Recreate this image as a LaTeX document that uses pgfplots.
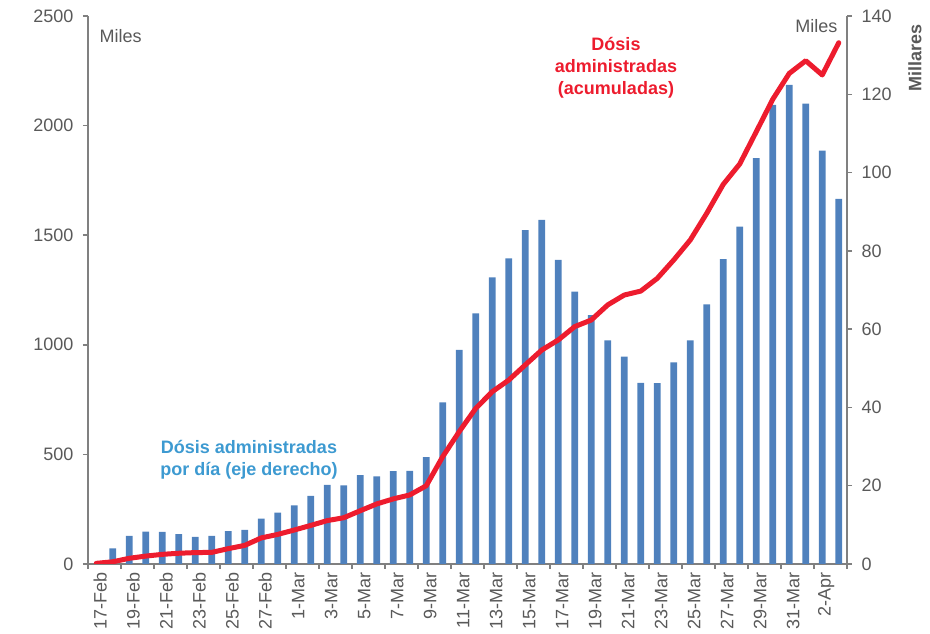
\documentclass[border=0pt]{standalone}
\usepackage{fontspec}
\setmainfont{Liberation Sans}
\usepackage{pgfplots}
\pgfplotsset{compat=1.18}
\definecolor{barblue}{HTML}{4F81BD}
\definecolor{linered}{HTML}{ED1C2E}
\definecolor{txtblue}{HTML}{3D9AD1}
\definecolor{txtgray}{HTML}{595959}
\definecolor{axgray}{HTML}{808080}
\pgfplotsset{
  myaxis/.style={
    at={(88pt,70pt)}, anchor=south west,
    scale only axis, width=759pt, height=548pt,
    xmin=-0.5, xmax=45.5,
    axis line style={-, axgray, line width=1.5pt},
    tick style={axgray, line width=1.5pt},
    major tick length=5pt, minor tick length=5pt,
    tick align=outside,
    tick label style={font=\fontsize{18}{21}\selectfont, text=txtgray},
    /pgf/number format/assume math mode=true,
    /pgf/number format/1000 sep={},
  }
}
\begin{document}
\begin{tikzpicture}
\useasboundingbox (0,0) rectangle (930pt,634pt);
% bars: right axis
\begin{axis}[myaxis,
  ymin=0, ymax=140, ytick={0,20,...,140},
  axis y line*=right, axis x line*=bottom,
  xtick={0,2,...,44},
  xticklabels={17-Feb,19-Feb,21-Feb,23-Feb,25-Feb,27-Feb,1-Mar,3-Mar,5-Mar,7-Mar,9-Mar,11-Mar,13-Mar,15-Mar,17-Mar,19-Mar,21-Mar,23-Mar,25-Mar,27-Mar,29-Mar,31-Mar,2-Apr},
  minor xtick={-0.5,1.5,...,45.5},
  major x tick style={draw=none},
  xticklabel style={rotate=90, anchor=east, xshift=0pt, yshift=-4pt},
  yticklabel style={anchor=west, xshift=6pt},
]
\addplot[ybar, bar width=0.4, fill=barblue, draw=none] coordinates {
(0,0) (1,4.0) (2,7.2) (3,8.3) (4,8.2) (5,7.6) (6,6.9) (7,7.2) (8,8.4) (9,8.7)
(10,11.6) (11,13.1) (12,15.0) (13,17.4) (14,20.2) (15,20.1) (16,22.7) (17,22.4) (18,23.7) (19,23.8)
(20,27.3) (21,41.3) (22,54.7) (23,64.0) (24,73.2) (25,78.1) (26,85.3) (27,87.9) (28,77.7) (29,69.6)
(30,63.6) (31,57.1) (32,53.0) (33,46.3) (34,46.2) (35,51.5) (36,57.1) (37,66.3) (38,77.9) (39,86.2)
(40,103.7) (41,117.3) (42,122.4) (43,117.6) (44,105.6) (45,93.3)
};
\end{axis}
% line: left axis
\begin{axis}[myaxis,
  ymin=0, ymax=2500, ytick={0,500,...,2500},
  axis y line*=left, axis x line=none,
  yticklabel style={anchor=east, xshift=-6pt},
]
\addplot[linered, line width=5pt, line join=round, line cap=round] coordinates {
(0,3) (1,10) (2,26) (3,36) (4,44) (5,49) (6,52) (7,53) (8,70) (9,85)
(10,119) (11,135) (12,155) (13,176) (14,198) (15,211) (16,243) (17,274) (18,297) (19,315)
(20,357) (21,490) (22,604) (23,710) (24,786) (25,839) (26,908) (27,976) (28,1022) (29,1083)
(30,1113) (31,1182) (32,1227) (33,1245) (34,1303) (35,1387) (36,1478) (37,1600) (38,1732) (39,1825)
(40,1972) (41,2120) (42,2238) (43,2296) (44,2231) (45,2378)
};
\end{axis}
\node[anchor=west, text=txtgray, font=\fontsize{18}{21}\selectfont] at (96pt,598pt) {Miles};
\node[anchor=east, text=txtgray, font=\fontsize{18}{21}\selectfont] at (841pt,608pt) {Miles};
\node[rotate=90, text=txtgray, font=\fontsize{18}{21}\selectfont\bfseries] at (915pt,576pt) {Millares};
\node[align=center, text=linered, font=\fontsize{18}{22}\selectfont\bfseries] at (616pt,566pt) {Dósis\\administradas\\(acumuladas)};
\node[align=center, text=txtblue, font=\fontsize{18}{22}\selectfont\bfseries] at (249pt,174pt) {Dósis administradas\\por día (eje derecho)};
\end{tikzpicture}
\end{document}
